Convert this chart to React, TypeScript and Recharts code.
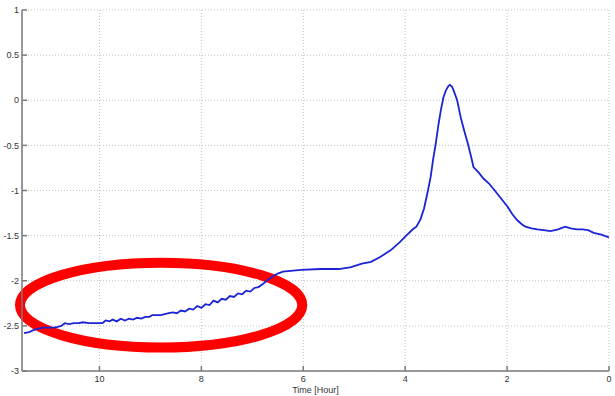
import { LineChart, Line, XAxis, YAxis, CartesianGrid, ReferenceArea } from "recharts";

// time in hours (axis runs from ~11.5 down to 0)
const hours = [
  11.48, 11.38, 11.31, 11.2, 11.1, 11.02, 10.9, 10.82, 10.75, 10.68, 10.6, 10.5, 10.4, 10.33, 10.2, 10.1, 10.0,
  9.94, 9.88, 9.8, 9.74, 9.66, 9.58, 9.5, 9.42, 9.34, 9.26, 9.18, 9.1, 9.02, 8.96, 8.88, 8.8, 8.72, 8.64,
  8.56, 8.48, 8.4, 8.32, 8.24, 8.16, 8.08, 8.0, 7.92, 7.84, 7.76, 7.68, 7.6, 7.52, 7.44, 7.36, 7.28, 7.2,
  7.12, 7.04, 6.96, 6.88, 6.8, 6.72, 6.62, 6.5, 6.4, 6.25, 6.04, 5.66, 5.3, 5.06, 4.85, 4.67, 4.5, 4.28, 4.1,
  3.98, 3.85, 3.78, 3.7, 3.63, 3.56, 3.5, 3.45, 3.4, 3.35, 3.3, 3.25, 3.2, 3.15, 3.12, 3.08, 3.05, 2.98,
  2.91, 2.84, 2.77, 2.7, 2.66, 2.56, 2.46, 2.36, 2.27, 2.13, 1.99, 1.9, 1.8, 1.7, 1.64, 1.52, 1.41, 1.28,
  1.15, 1.0, 0.86, 0.75, 0.63, 0.52, 0.41, 0.3, 0.15, 0,
];
const values = [
  -2.58, -2.57, -2.55, -2.53, -2.52, -2.52, -2.52, -2.51, -2.5, -2.47, -2.48, -2.47, -2.47, -2.46, -2.47, -2.47, -2.47,
  -2.47, -2.44, -2.45, -2.43, -2.45, -2.42, -2.44, -2.42, -2.43, -2.41, -2.42, -2.4, -2.4, -2.38, -2.38, -2.38, -2.37, -2.36,
  -2.35, -2.36, -2.33, -2.34, -2.31, -2.32, -2.28, -2.3, -2.26, -2.27, -2.22, -2.24, -2.2, -2.21, -2.17, -2.18, -2.14, -2.15,
  -2.11, -2.12, -2.08, -2.07, -2.04, -2.0, -1.96, -1.92, -1.9, -1.89, -1.88, -1.87, -1.87, -1.85, -1.81, -1.79, -1.74, -1.66, -1.57,
  -1.5, -1.43, -1.4, -1.32, -1.2, -1.02, -0.85, -0.65, -0.48, -0.28, -0.11, 0.03, 0.11, 0.16, 0.17, 0.15, 0.11, 0.0,
  -0.19, -0.34, -0.48, -0.64, -0.74, -0.8, -0.87, -0.92, -0.98, -1.08, -1.18, -1.26, -1.33, -1.38, -1.4, -1.42, -1.43, -1.44,
  -1.45, -1.43, -1.4, -1.42, -1.43, -1.43, -1.44, -1.47, -1.49, -1.52,
];

const xTicks = [0, 2, 4, 6, 8, 10];
const yTicks = [-3, -2.5, -2, -1.5, -1, -0.5, 0, 0.5, 1];

// the red ring, in data units
const ring = { x1: 6.02, x2: 11.56, y1: -2.74, y2: -1.8 };

const data = hours.map((h, i) => ({ h, v: values[i] }));

const axisColor = "#7a7a7a";
const tickStyle = { fill: "#333", fontSize: 9, fontFamily: "'Liberation Sans', Arial, sans-serif" };
const blank = () => "";

const Ellipse = (props: any) => {
  const { x, y, width, height } = props;
  return (
    <ellipse
      cx={x + width / 2}
      cy={y + height / 2}
      rx={width / 2}
      ry={height / 2}
      fill="none"
      stroke="#ff0000"
      strokeWidth={10}
    />
  );
};

export default function App() {
  return (
    <div style={{ position: "absolute", left: 0, top: 0, background: "#fff" }}>
      <LineChart width={615} height={396} data={data} margin={{ top: 10, right: 6, left: 0, bottom: 0 }}>
        <CartesianGrid stroke="#c4c4c4" strokeDasharray="1 2" />
        <XAxis
          dataKey="h"
          type="number"
          domain={[0, 11.52]}
          reversed
          allowDataOverflow
          ticks={xTicks}
          height={25}
          stroke={axisColor}
          strokeWidth={1.5}
          tickSize={-5}
          tickMargin={10}
          tick={tickStyle}
          label={{ value: "Time [Hour]", position: "insideBottom", offset: 3, style: tickStyle }}
        />
        <XAxis
          xAxisId="top"
          orientation="top"
          type="number"
          domain={[0, 11.52]}
          reversed
          ticks={xTicks}
          height={0}
          stroke={axisColor}
          strokeWidth={1.5}
          tickSize={-5}
          tickFormatter={blank}
        />
        <YAxis
          type="number"
          domain={[-3, 1]}
          ticks={yTicks}
          width={22}
          stroke={axisColor}
          strokeWidth={1.5}
          tickSize={-5}
          tickMargin={8}
          tick={tickStyle}
        />
        <YAxis
          yAxisId="right"
          orientation="right"
          type="number"
          domain={[-3, 1]}
          ticks={yTicks}
          width={0}
          stroke={axisColor}
          strokeWidth={1.5}
          tickSize={-5}
          tickFormatter={blank}
        />
        <Line
          dataKey="v"
          type="linear"
          stroke="#1a24d4"
          strokeWidth={1.8}
          dot={false}
          isAnimationActive={false}
        />
        <ReferenceArea
          x1={ring.x1}
          x2={ring.x2}
          y1={ring.y1}
          y2={ring.y2}
          ifOverflow="visible"
          shape={<Ellipse />}
        />
      </LineChart>
    </div>
  );
}
